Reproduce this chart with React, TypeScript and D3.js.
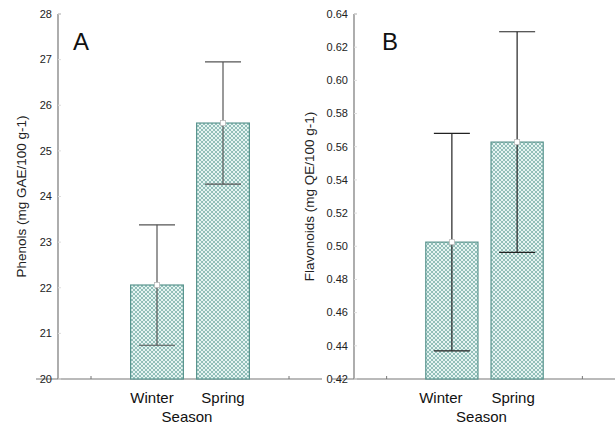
import React from 'react';
import * as d3 from 'd3';

const seasons = ['Winter', 'Spring'];
const slots = ['', 'Winter', 'Spring', ' '];

const phenolMeans = [22.06, 25.61];
const phenolErr = [1.32, 1.34];
const phenolTicks = [20, 21, 22, 23, 24, 25, 26, 27, 28];

const flavMeans = [0.5025, 0.5628];
const flavErr = [0.0655, 0.0665];
const flavTicks = [0.42, 0.44, 0.46, 0.48, 0.5, 0.52, 0.54, 0.56, 0.58, 0.6, 0.62, 0.64];

const W = 616, H = 425;
const top = 14, bottom = 379;

const Panel = ({ left, right, letter, letterX, title, titleX, means, errs, ticks, fmt, errColor, labelShift }) => {
  const x = d3.scaleBand().domain(slots).range([left, right]);
  const y = d3.scaleLinear().domain([ticks[0], ticks[ticks.length - 1]]).range([bottom, top]);
  const bw = x.bandwidth() * 0.8;
  const cx = (s) => x(s) + x.bandwidth() / 2;
  const mid = (cx(seasons[0]) + cx(seasons[1])) / 2;

  return (
    <g>
      {/* axes */}
      <line x1={left} x2={left} y1={top} y2={bottom} stroke="#777" strokeWidth={1.2} />
      <line x1={left} x2={left + 3} y1={top} y2={top} stroke="#999" />
      <line x1={left - 22} x2={right} y1={bottom} y2={bottom} stroke="#777" strokeWidth={1.2} />
      {ticks.map((t) => (
        <g key={t}>
          <line x1={left} x2={left + 3} y1={y(t)} y2={y(t)} stroke="#ddd" />
          <text x={left - 6} y={y(t)} dy="0.35em" textAnchor="end" fontSize={11}
            fontFamily="Liberation Sans, Arial, sans-serif" fill="#222">{fmt(t)}</text>
        </g>
      ))}
      {slots.map((s, i) => (
        <line key={i} x1={cx(s)} x2={cx(s)} y1={bottom} y2={bottom - 3} stroke="#777" />
      ))}

      {/* bars */}
      {seasons.map((s, i) => (
        <rect key={s} x={cx(s) - bw / 2} y={y(means[i])} width={bw} height={bottom - y(means[i])}
          fill="url(#hatch)" stroke="#5a958f" strokeWidth={1.2} />
      ))}

      {/* error bars */}
      {seasons.map((s, i) => {
        const c = cx(s);
        const hi = y(means[i] + errs[i]);
        const lo = y(means[i] - errs[i]);
        return (
          <g key={s} stroke={errColor} strokeWidth={1.2}>
            <line x1={c} x2={c} y1={hi} y2={lo} />
            <line x1={c - 18} x2={c + 18} y1={hi} y2={hi} />
            <line x1={c - 18} x2={c + 18} y1={lo} y2={lo} />
            <rect x={c - 2.5} y={y(means[i]) - 2.5} width={5} height={5} fill="#fff" stroke="#bbb" strokeWidth={0.8} />
          </g>
        );
      })}

      {/* labels */}
      <text x={letterX} y={50} fontSize={24} fontFamily="Liberation Sans, Arial, sans-serif" fill="#111">{letter}</text>
      <text transform={`translate(${titleX},${(top + bottom) / 2}) rotate(-90)`} textAnchor="middle" fontSize={13.5}
        fontFamily="Liberation Sans, Arial, sans-serif" fill="#222">{title}</text>
      {seasons.map((s, i) => (
        <text key={s} x={cx(s) + labelShift[i]} y={403} textAnchor="middle" fontSize={15}
          fontFamily="Liberation Sans, Arial, sans-serif" fill="#111">{s}</text>
      ))}
      <text x={mid - 3} y={422} textAnchor="middle" fontSize={15}
        fontFamily="Liberation Sans, Arial, sans-serif" fill="#111">Season</text>
    </g>
  );
};

export default function App() {
  return (
    <svg width={W} height={H} style={{ position: 'absolute', left: 0, top: 0, background: '#fff' }}>
      <defs>
        <pattern id="hatch" patternUnits="userSpaceOnUse" width={4} height={4}>
          <rect width={4} height={4} fill="#e6f4f2" />
          <path d="M0,0 L4,4 M4,0 L0,4" stroke="#6fa8a1" strokeWidth={0.7} />
        </pattern>
      </defs>
      <Panel left={58} right={322} letter="A" letterX={73} title="Phenols (mg GAE/100 g-1)" titleX={26}
        means={phenolMeans} errs={phenolErr} ticks={phenolTicks} fmt={d3.format('d')} errColor="#555"
        labelShift={[-5, 0]} />
      <Panel left={354} right={615} letter="B" letterX={382} title="Flavonoids (mg QE/100 g-1)" titleX={314}
        means={flavMeans} errs={flavErr} ticks={flavTicks} fmt={d3.format('.2f')} errColor="#222"
        labelShift={[-11, -4]} />
    </svg>
  );
}
